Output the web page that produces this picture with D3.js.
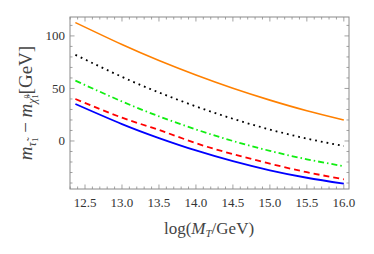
<!DOCTYPE html>
<html>
<head>
<meta charset="utf-8">
<script src="https://cdn.jsdelivr.net/npm/d3@7"></script>
<style>
  body { margin: 0; background: #fff; }
</style>
</head>
<body>
<script>
// values
const logMT = [12.37, 13.0, 13.5, 14.0, 14.5, 15.0, 15.5, 16.0];
const orangeSeries = [112.7, 91.8, 76.6, 62.8, 50.2, 38.9, 28.8, 20.0];
const blackSeries = [82.0, 61.0, 46.2, 32.9, 21.1, 10.9, 2.3, -4.8];
const greenSeries = [57.4, 37.6, 23.5, 11.0, 0.0, -9.4, -17.4, -24.0];
const redSeries = [40.0, 22.2, 10.5, -2.1, -12.5, -21.6, -29.7, -36.5];
const blueSeries = [35.2, 16.1, 2.8, -9.0, -19.2, -27.9, -35.0, -40.6];
const xTicks = [12.5, 13.0, 13.5, 14.0, 14.5, 15.0, 15.5, 16.0];
const yTicks = [0, 50, 100];

const width = 374, height = 254;
const margin = { left: 70, right: 25, top: 17, bottom: 65 };
const serif = "'Liberation Serif', 'Times New Roman', 'DejaVu Serif', serif";

const svg = d3.select("body").append("svg")
    .attr("width", width)
    .attr("height", height)
    .attr("font-family", serif);

const x = d3.scaleLinear().domain([12.297, 16.07]).range([margin.left, width - margin.right]);
const y = d3.scaleLinear().domain([-45.7, 118]).range([height - margin.bottom, margin.top]);

const frameColor = "#8a8a8a";
const x0 = x.range()[0], x1 = x.range()[1], y0 = y.range()[0], y1 = y.range()[1];

// frame
svg.append("rect")
    .attr("x", x0).attr("y", y1)
    .attr("width", x1 - x0).attr("height", y0 - y1)
    .attr("fill", "none").attr("stroke", frameColor).attr("stroke-width", 1);

// ticks on all four sides, pointing inward
const xMinor = d3.range(12.3, 16.05, 0.1);
const yMinor = d3.range(-40, 118, 10);
const g = svg.append("g").attr("stroke", frameColor).attr("stroke-width", 0.8);
xMinor.forEach(v => {
    const major = Math.abs(v * 2 - Math.round(v * 2)) < 1e-6;
    const len = major ? 4.5 : 2.5;
    g.append("line").attr("x1", x(v)).attr("x2", x(v)).attr("y1", y0).attr("y2", y0 - len);
    g.append("line").attr("x1", x(v)).attr("x2", x(v)).attr("y1", y1).attr("y2", y1 + len);
});
yMinor.forEach(v => {
    const major = v % 50 === 0;
    const len = major ? 4.5 : 2.5;
    g.append("line").attr("y1", y(v)).attr("y2", y(v)).attr("x1", x0).attr("x2", x0 + len);
    g.append("line").attr("y1", y(v)).attr("y2", y(v)).attr("x1", x1).attr("x2", x1 - len);
});

// tick labels
svg.selectAll(".xl").data(xTicks).enter().append("text")
    .attr("x", d => x(d)).attr("y", y0 + 18)
    .attr("text-anchor", "middle")
    .attr("font-size", 13).attr("fill", "#333")
    .text(d => d.toFixed(1));
svg.selectAll(".yl").data(yTicks).enter().append("text")
    .attr("x", x0 - 5).attr("y", d => y(d) + 4.5)
    .attr("text-anchor", "end")
    .attr("font-size", 13).attr("fill", "#333")
    .text(d => d);

// curves
const pts = s => logMT.map((v, i) => [v, s[i]]);
const line = d3.line().x(d => x(d[0])).y(d => y(d[1])).curve(d3.curveNatural);
const series = [
    { data: blueSeries, color: "#0000ff", dash: null, w: 1.8 },
    { data: redSeries, color: "#ff0000", dash: "6,4", w: 1.8 },
    { data: greenSeries, color: "#11ee11", dash: "6,3,1.5,3", w: 1.8 },
    { data: blackSeries, color: "#000000", dash: "1.8,4", w: 1.8 },
    { data: orangeSeries, color: "#ff8000", dash: null, w: 1.6 }
];
series.forEach(s => {
    svg.append("path")
        .attr("d", line(pts(s.data)))
        .attr("fill", "none")
        .attr("stroke", s.color)
        .attr("stroke-width", s.w)
        .attr("stroke-dasharray", s.dash);
});

// x axis title
const xt = svg.append("text")
    .attr("x", 209).attr("y", 234)
    .attr("text-anchor", "middle")
    .attr("font-size", 17).attr("fill", "#444");
xt.append("tspan").text("log(");
xt.append("tspan").attr("font-style", "italic").text("M");
xt.append("tspan").attr("font-style", "italic").attr("font-size", 11).attr("dy", 3).text("T");
xt.append("tspan").attr("dy", -3).text("/GeV)");

// y axis title
const yt = svg.append("text")
    .attr("transform", "translate(32,103) rotate(-90)")
    .attr("text-anchor", "middle")
    .attr("font-size", 19).attr("fill", "#444");
yt.append("tspan").attr("font-style", "italic").text("m");
yt.append("tspan").attr("font-style", "italic").attr("font-size", 12).attr("dy", 4).text("τ̃");
yt.append("tspan").attr("font-size", 9).attr("dy", 2).text("1");
yt.append("tspan").attr("dy", -6).text(" − ");
yt.append("tspan").attr("font-style", "italic").text("m");
yt.append("tspan").attr("font-style", "italic").attr("font-size", 12).attr("dy", 4).text("χ̃");
yt.append("tspan").attr("font-size", 8).attr("dy", -6).text("0");
yt.append("tspan").attr("font-size", 8).attr("dx", -4).attr("dy", 8).text("1");
yt.append("tspan").attr("dy", -6).text("[GeV]");
</script>
</body>
</html>
